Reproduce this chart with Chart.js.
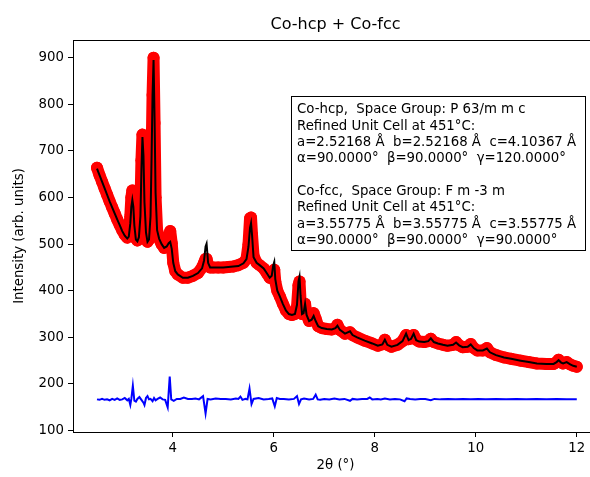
<!DOCTYPE html>
<html>
<head>
<meta charset="utf-8">
<script src="https://cdn.jsdelivr.net/npm/chart.js@4/dist/chart.umd.min.js"></script>
<style>
  html, body { margin: 0; padding: 0; background: #fff; overflow: hidden; width: 590px; height: 477px; }
  #wrap { position: relative; width: 604px; height: 477px; }
</style>
</head>
<body>
<div id="wrap"><canvas id="rietveld"></canvas></div>
<script>
// 2θ grid shared by observed and calculated profiles
const twoTheta = [
  2.50, 2.55, 2.60, 2.65, 2.70, 2.75, 2.80, 2.85, 2.90, 2.95,
  3.00, 3.05, 3.10, 3.13, 3.16, 3.18, 3.20, 3.22, 3.24, 3.27,
  3.30, 3.33, 3.36, 3.38, 3.40, 3.42, 3.44, 3.47, 3.50, 3.53,
  3.56, 3.58, 3.60, 3.62, 3.64, 3.66, 3.69, 3.73, 3.78, 3.83,
  3.88, 3.92, 3.95, 3.98, 4.01, 4.05, 4.10, 4.20, 4.30, 4.40,
  4.50, 4.58, 4.62, 4.65, 4.67, 4.70, 4.74, 4.80, 4.90, 5.00,
  5.10, 5.20, 5.30, 5.40, 5.46, 5.50, 5.53, 5.55, 5.57, 5.60,
  5.66, 5.72, 5.80, 5.86, 5.92, 5.96, 5.99, 6.01, 6.03, 6.07,
  6.12, 6.18, 6.24, 6.30, 6.36, 6.42, 6.46, 6.49, 6.51, 6.53,
  6.56, 6.59, 6.62, 6.65, 6.70, 6.75, 6.79, 6.83, 6.88, 6.95,
  7.05, 7.15, 7.22, 7.26, 7.31, 7.41, 7.51, 7.56, 7.65, 7.80,
  7.95, 8.06, 8.15, 8.20, 8.25, 8.33, 8.45, 8.55, 8.62, 8.67,
  8.72, 8.77, 8.82, 8.88, 8.98, 9.06, 9.11, 9.17, 9.25, 9.35,
  9.44, 9.55, 9.61, 9.67, 9.74, 9.84, 9.90, 9.96, 10.03, 10.14,
  10.22, 10.28, 10.40, 10.56, 10.70, 10.89, 11.05, 11.21, 11.40, 11.54,
  11.60, 11.64, 11.69, 11.73, 11.80, 11.87, 11.93, 12.00
];

const yObs = [
  664, 648, 634, 620, 606, 592, 579, 566, 553, 541,
  530, 520, 514, 520, 560, 600, 615, 590, 540, 512,
  508, 520, 580, 680, 735, 690, 580, 520, 505, 510,
  560, 680, 820, 900, 760, 600, 530, 512, 500, 492,
  502, 518, 528, 502, 460, 442, 435, 428, 428, 432,
  438, 450, 460, 468, 468, 455, 450, 450, 450, 450,
  451, 452, 455, 460, 468, 500, 555, 557, 520, 475,
  460, 455, 448, 438, 428, 430, 442, 445, 420, 400,
  388, 372, 358, 350, 348, 350, 365, 412, 420, 380,
  350, 352, 372, 348, 335, 338, 352, 340, 324, 320,
  318, 317, 320, 327, 316, 308, 311, 305, 300, 293,
  287, 282, 285, 295, 284, 280, 284, 292, 305, 296,
  298, 305, 295, 291, 290, 292, 297, 290, 287, 284,
  282, 284, 290, 283, 279, 280, 286, 277, 272, 272,
  277, 268, 262, 257, 254, 250, 247, 244, 243, 243,
  247, 252, 246, 244, 247, 242, 239, 237
];

const yCalc = [
  662, 648, 634, 620, 606, 592, 579, 566, 553, 541,
  528, 518, 512, 516, 545, 580, 595, 580, 540, 510,
  506, 515, 560, 660, 730, 690, 590, 525, 505, 510,
  560, 680, 820, 895, 770, 610, 530, 512, 500, 492,
  495, 502, 505, 490, 460, 442, 435, 428, 428, 432,
  438, 448, 465, 495, 501, 460, 450, 450, 450, 450,
  451, 452, 453, 459, 468, 495, 535, 545, 520, 472,
  460, 455, 448, 438, 428, 432, 455, 462, 425, 400,
  388, 372, 358, 350, 348, 350, 370, 420, 430, 390,
  350, 352, 372, 348, 335, 338, 346, 335, 324, 320,
  318, 317, 320, 325, 316, 308, 313, 305, 300, 293,
  287, 282, 285, 295, 284, 280, 284, 292, 308, 294,
  297, 308, 294, 291, 290, 292, 298, 290, 287, 284,
  282, 284, 289, 283, 279, 280, 285, 277, 272, 272,
  276, 268, 262, 257, 254, 250, 247, 244, 243, 243,
  247, 251, 246, 244, 247, 242, 239, 237
];

// difference curve (offset baseline)
const diffTheta = [
  2.50, 2.55, 2.60, 2.65, 2.70, 2.75, 2.80, 2.85, 2.90, 2.95,
  3.00, 3.05, 3.10, 3.13, 3.16, 3.18, 3.21, 3.24, 3.27, 3.30,
  3.34, 3.38, 3.42, 3.44, 3.47, 3.50, 3.53, 3.56, 3.60, 3.63,
  3.66, 3.70, 3.75, 3.80, 3.85, 3.90, 3.94, 3.97, 4.02, 4.08,
  4.15, 4.22, 4.30, 4.38, 4.45, 4.52, 4.60, 4.65, 4.69, 4.75,
  4.85, 4.95, 5.05, 5.15, 5.25, 5.30, 5.34, 5.38, 5.44, 5.48,
  5.52, 5.56, 5.60, 5.70, 5.80, 5.90, 5.97, 6.02, 6.06, 6.12,
  6.20, 6.30, 6.40, 6.46, 6.50, 6.54, 6.60, 6.70, 6.78, 6.83,
  6.87, 6.92, 7.00, 7.10, 7.20, 7.30, 7.40, 7.51, 7.56, 7.65,
  7.75, 7.85, 7.90, 7.95, 8.05, 8.12, 8.20, 8.30, 8.40, 8.50,
  8.59, 8.63, 8.70, 8.80, 8.90, 9.00, 9.11, 9.18, 9.30, 9.45,
  9.60, 9.75, 9.90, 10.05, 10.20, 10.40, 10.60, 10.80, 11.00, 11.20,
  11.40, 11.60, 11.80, 12.00
];

const yDiff = [
  167, 166, 168, 166, 167, 165, 168, 166, 169, 166,
  167, 170, 165, 168, 155, 168, 196, 164, 162, 168,
  172, 166, 160, 155, 170, 174, 167, 168, 163, 170,
  165, 168, 171, 167, 166, 150, 216, 167, 164, 168,
  168, 171, 168, 168, 169, 167, 174, 137, 168, 167,
  169, 168, 168, 167, 169, 168, 173, 166, 168, 167,
  190, 157, 168, 170, 167, 168, 169, 152, 170, 168,
  168, 167, 168, 174, 157, 167, 169, 167, 168, 177,
  167, 166, 168, 167, 169, 167, 168, 164, 168, 167,
  168, 168, 171, 167, 168, 167, 169, 167, 168, 167,
  163, 169, 168, 167, 168, 168, 165, 168, 167, 168,
  167, 168, 167, 168, 167, 168, 167, 168, 167, 168,
  167, 168, 167, 167
];

const xTicks = [4, 6, 8, 10, 12];
const yTicks = [100, 200, 300, 400, 500, 600, 700, 800, 900];

const chartTitle = 'Co-hcp + Co-fcc';
const xTitle = '2θ (°)';
const yTitle = 'Intensity (arb. units)';
const cellInfo = [
  'Co-hcp,  Space Group: P 63/m m c',
  'Refined Unit Cell at 451°C:',
  'a=2.52168 Å  b=2.52168 Å  c=4.10367 Å',
  'α=90.0000°  β=90.0000°  γ=120.0000°',
  '',
  'Co-fcc,  Space Group: F m -3 m',
  'Refined Unit Cell at 451°C:',
  'a=3.55775 Å  b=3.55775 Å  c=3.55775 Å',
  'α=90.0000°  β=90.0000°  γ=90.0000°'
];

const FONT = '"DejaVu Sans", sans-serif';
const toXY = (xs, ys) => xs.map((x, i) => ({ x: x, y: ys[i] }));

// frame, titles and the cell-parameter box
const decorations = {
  id: 'decorations',
  afterDraw(chart) {
    const { ctx, chartArea: a } = chart;
    ctx.save();
    ctx.strokeStyle = '#000';
    ctx.lineWidth = 1;
    ctx.strokeRect(a.left + 0.5, a.top + 0.5, a.right - a.left, a.bottom - a.top);

    ctx.fillStyle = '#000';
    ctx.textAlign = 'center';
    ctx.font = '16px ' + FONT;
    ctx.textBaseline = 'alphabetic';
    ctx.fillText(chartTitle, (a.left + a.right) / 2, 29);

    ctx.font = '13.3px ' + FONT;
    ctx.textBaseline = 'middle';
    ctx.fillText(xTitle, (a.left + a.right) / 2, 466);

    ctx.save();
    ctx.translate(20, (a.top + a.bottom) / 2);
    ctx.rotate(-Math.PI / 2);
    ctx.fillText(yTitle, 0, 0);
    ctx.restore();

    // text box
    ctx.fillStyle = '#fff';
    ctx.fillRect(291.5, 96.5, 294, 154);
    ctx.strokeStyle = '#000';
    ctx.strokeRect(291.5, 96.5, 294, 154);
    ctx.fillStyle = '#000';
    ctx.textAlign = 'left';
    ctx.font = '13.3px ' + FONT;
    cellInfo.forEach((line, i) => {
      if (line) ctx.fillText(line, 297, 110 + i * 16.3);
    });
    ctx.restore();
  }
};

new Chart(document.getElementById('rietveld'), {
  type: 'scatter',
  data: {
    datasets: [
      {
        label: 'calc',
        data: toXY(twoTheta, yCalc),
        showLine: true,
        borderColor: '#000',
        borderWidth: 2,
        pointRadius: 0,
        order: 0
      },
      {
        label: 'diff',
        data: toXY(diffTheta, yDiff),
        showLine: true,
        borderColor: '#0000ff',
        borderWidth: 2,
        pointRadius: 0,
        order: 1
      },
      {
        label: 'obs',
        data: toXY(twoTheta, yObs),
        showLine: true,
        borderColor: '#ff0000',
        borderWidth: 12,
        borderCapStyle: 'round',
        borderJoinStyle: 'round',
        pointRadius: 6,
        pointBorderWidth: 0,
        pointBackgroundColor: '#ff0000',
        order: 2
      }
    ]
  },
  options: {
    responsive: true,
    maintainAspectRatio: false,
    animation: false,
    layout: { padding: { top: 40, right: 0, left: 0, bottom: 0 } },
    plugins: {
      legend: { display: false },
      tooltip: { enabled: false },
      title: { display: false }
    },
    scales: {
      x: {
        type: 'linear',
        min: 2.025,
        max: 12.42,
        afterBuildTicks: s => { s.ticks = xTicks.map(v => ({ value: v })); },
        afterFit: s => { s.height = 45; },
        ticks: { color: '#000', padding: 4, font: { family: FONT, size: 13.3 }, maxRotation: 0 },
        grid: { display: true, drawOnChartArea: false, drawTicks: true, tickLength: 5, color: '#000' },
        border: { display: true, color: '#000', width: 1 }
      },
      y: {
        type: 'linear',
        min: 97,
        max: 938,
        afterBuildTicks: s => { s.ticks = yTicks.map(v => ({ value: v })); },
        afterFit: s => { s.width = 73; },
        ticks: { color: '#000', padding: 4, font: { family: FONT, size: 13.3 } },
        grid: { display: true, drawOnChartArea: false, drawTicks: true, tickLength: 5, color: '#000' },
        border: { display: true, color: '#000', width: 1 }
      }
    }
  },
  plugins: [decorations]
});
</script>
</body>
</html>
